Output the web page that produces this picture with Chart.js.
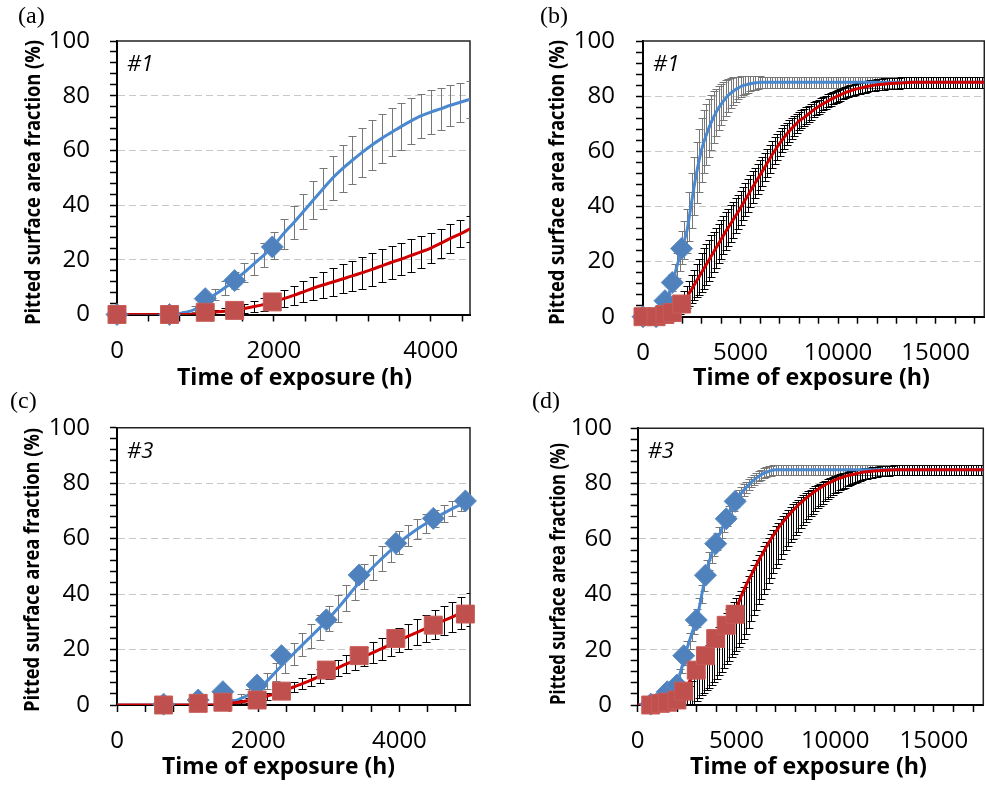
<!DOCTYPE html>
<html>
<head>
<meta charset="utf-8">
<title>Pitted surface area fraction vs time of exposure</title>
<script src="https://cdn.jsdelivr.net/npm/chart.js@4.4.1/dist/chart.umd.min.js"></script>
<style>
    html, body { margin: 0; padding: 0; background: #fff; overflow: hidden; }
    #page { position: relative; width: 985px; height: 787px; overflow: hidden; }
    canvas { position: absolute; }
</style>
</head>
<body>
<div id="page">
    <canvas id="pa" width="490" height="390" style="left:0;top:0"></canvas>
    <canvas id="pb" width="508" height="390" style="left:490px;top:0"></canvas>
    <canvas id="pc" width="490" height="397" style="left:0;top:390px"></canvas>
    <canvas id="pd" width="507" height="397" style="left:490px;top:390px"></canvas>
</div>
<script>
// experimental points (markers)
const expHours1 = [0, 670, 1125, 1500, 1980];
const expBlue1 = [0, 0, 5.8, 12.4, 24.7];
const expRed1 = [0, 0, 0.8, 1.5, 4.6];

const expHours3 = [660, 1150, 1500, 1985, 2330, 2965, 3430, 3950, 4480, 4935];
const expBlue3 = [0.3, 1.8, 4.8, 7.2, 17.8, 30.7, 46.9, 58.3, 67.3, 73.6];
const expRed3 = [0, 0.6, 1, 1.8, 5, 12.6, 17.8, 24, 28.8, 32.8];

// model curves, panel (a)
const hoursA = [0, 125, 250, 375, 500, 625, 750, 875, 1000, 1125, 1250, 1375, 1500, 1625, 1750, 1875,
    2000, 2125, 2250, 2375, 2500, 2625, 2750, 2875, 3000, 3125, 3250, 3375, 3500, 3625, 3750, 3875,
    4000, 4125, 4250, 4375, 4500];
const blueA = [0, 0, 0, 0, 0, 0, 0.2, 0.8, 2, 5, 7.3, 9.8, 12.4, 15.5, 18.6, 21.8,
    25.3, 29.6, 33.5, 37.6, 41.8, 45.9, 49.9, 53.3, 56.4, 59.3, 62, 64.4, 66.6, 68.8, 70.8, 72.6,
    74, 75.2, 76.5, 77.6, 78.7];
const blueErrA = [0, 0, 0, 0, 0, 0, 0.2, 0.5, 1, 1.5, 2, 2.5, 3, 3.5, 4, 4.5,
    5, 5.5, 6, 6.5, 7, 7.5, 8, 8.5, 8.8, 9, 9, 9, 8.8, 8.6, 8.4, 8.2,
    8, 7.7, 7.4, 7.1, 6.8];
const redA = [0, 0, 0, 0, 0, 0, 0, 0, 0.2, 0.6, 0.9, 1.2, 1.6, 2.2, 2.9, 3.7,
    4.7, 5.8, 7, 8.3, 9.6, 10.8, 11.9, 13, 14.1, 15.3, 16.5, 17.8, 19.1, 20.3, 21.6, 22.9,
    24.3, 26, 27.8, 29.5, 31.3];
const redErrA = [0, 0, 0, 0, 0, 0, 0, 0, 0.3, 0.5, 0.8, 1, 1.3, 1.6, 2, 2.3,
    2.6, 3, 3.4, 3.8, 4.2, 4.6, 5, 5.3, 5.6, 5.8, 6, 6, 6, 6, 5.9, 5.8,
    5.6, 5.4, 5.2, 5, 4.8];

// model curves, panel (c)
const hoursC = [0, 125, 250, 375, 500, 625, 750, 875, 1000, 1125, 1250, 1375, 1500, 1625, 1750, 1875,
    2000, 2125, 2250, 2375, 2500, 2625, 2750, 2875, 3000, 3125, 3250, 3375, 3500, 3625, 3750, 3875,
    4000, 4125, 4250, 4375, 4500, 4625, 4750, 4875, 5000];
const blueC = [0, 0, 0, 0, 0, 0, 0, 0, 0, 0, 0, 0, 0.5, 1.2, 2.3, 3.8,
    5.8, 8.6, 12, 15.3, 18.5, 21.7, 24.8, 27.9, 31.2, 34.8, 38.6, 42.5, 46.3, 49.7, 52.8, 55.8,
    58.6, 61.1, 63.4, 65.4, 67.3, 69.1, 70.8, 72.4, 74];
const blueErrC = [0, 0, 0, 0, 0, 0, 0, 0, 0, 0, 0, 0, 0.5, 1, 1.5, 2,
    2.5, 3, 3.3, 3.6, 3.9, 4.1, 4.3, 4.5, 4.6, 4.7, 4.7, 4.7, 4.6, 4.5, 4.4, 4.2,
    4, 3.8, 3.6, 3.4, 3.2, 3, 2.8, 2.6, 2.5];
const redC = [0, 0, 0, 0, 0, 0, 0, 0, 0, 0, 0, 0, 0.4, 0.7, 1.1, 1.6,
    2.3, 3.2, 4.2, 5.3, 6.5, 7.7, 9, 10.5, 12, 13.4, 14.8, 16.1, 17.5, 18.9, 20.3, 21.8,
    23.3, 24.8, 26.2, 27.6, 29, 30.4, 31.8, 33.2, 34.5];
const redErrC = [0, 0, 0, 0, 0, 0, 0, 0, 0, 0, 0, 0, 0.3, 0.5, 0.7, 0.9,
    1.1, 1.3, 1.5, 1.7, 1.9, 2.1, 2.3, 2.5, 2.7, 2.9, 3.1, 3.3, 3.5, 3.7, 3.9, 4.1,
    4.3, 4.5, 4.7, 4.9, 5.1, 5.3, 5.5, 5.7, 5.9];

// model curves over the long time range, panels (b) and (d); one row = 2000 h
const hoursL = [0, 125, 250, 375, 500, 625, 750, 875, 1000, 1125, 1250, 1375, 1500, 1625, 1750, 1875,
    2000, 2125, 2250, 2375, 2500, 2625, 2750, 2875, 3000, 3125, 3250, 3375, 3500, 3625, 3750, 3875,
    4000, 4125, 4250, 4375, 4500, 4625, 4750, 4875, 5000, 5125, 5250, 5375, 5500, 5625, 5750, 5875,
    6000, 6125, 6250, 6375, 6500, 6625, 6750, 6875, 7000, 7125, 7250, 7375, 7500, 7625, 7750, 7875,
    8000, 8125, 8250, 8375, 8500, 8625, 8750, 8875, 9000, 9125, 9250, 9375, 9500, 9625, 9750, 9875,
    10000, 10125, 10250, 10375, 10500, 10625, 10750, 10875, 11000, 11125, 11250, 11375, 11500, 11625, 11750, 11875,
    12000, 12125, 12250, 12375, 12500, 12625, 12750, 12875, 13000, 13125, 13250, 13375, 13500, 13625, 13750, 13875,
    14000, 14125, 14250, 14375, 14500, 14625, 14750, 14875, 15000, 15125, 15250, 15375, 15500, 15625, 15750, 15875,
    16000, 16125, 16250, 16375, 16500, 16625, 16750, 16875, 17000, 17125, 17250, 17375, 17500];

const blueB = [0, 0, 0, 0, 0, 0, 0.2, 0.8, 2, 4, 6.3, 9.3, 12.4, 15.4, 18.5, 21.7,
    25, 27.8, 31, 36.3, 42, 47.4, 52.3, 56.6, 60.5, 63.5, 66, 68.4, 70.5, 72.4, 74.2, 75.7,
    77, 78.2, 79.3, 80.3, 81.1, 81.8, 82.4, 82.9, 83.4, 83.8, 84.1, 84.3, 84.5, 84.7, 84.8, 84.9,
    85, 85, 85, 85, 85, 85, 85, 85, 85, 85, 85, 85, 85, 85, 85, 85,
    85, 85, 85, 85, 85, 85, 85, 85, 85, 85, 85, 85, 85, 85, 85, 85,
    85, 85, 85, 85, 85, 85, 85, 85, 85, 85, 85, 85, 85, 85, 85, 85,
    85, 85, 85, 85, 85, 85, 85, 85, 85, 85, 85, 85, 85, 85, 85, 85,
    85, 85, 85, 85, 85, 85, 85, 85, 85, 85, 85, 85, 85, 85, 85, 85,
    85, 85, 85, 85, 85, 85, 85, 85, 85, 85, 85, 85, 85];
const blueErrB = [0, 0, 0, 0, 0, 0.1, 0.3, 0.6, 1, 1.5, 2, 2.5, 3, 3.7, 4.5, 5.2,
    6, 7, 8, 9, 10, 10.5, 11, 11.3, 11.5, 11.3, 11, 10.5, 10, 9.3, 8.5, 8,
    7.5, 7, 6.5, 6, 5.5, 5, 4.5, 4.1, 3.8, 3.5, 3.2, 3, 2.8, 2.6, 2.4, 2.3,
    2.2, 2.1, 2, 2, 2, 2, 2, 2, 2, 2, 2, 2, 2, 2, 2, 2,
    2, 2, 2, 2, 2, 2, 2, 2, 2, 2, 2, 2, 2, 2, 2, 2,
    2, 2, 2, 2, 2, 2, 2, 2, 2, 2, 2, 2, 2, 2, 2, 2,
    2, 2, 2, 2, 2, 2, 2, 2, 2, 2, 2, 2, 2, 2, 2, 2,
    2, 2, 2, 2, 2, 2, 2, 2, 2, 2, 2, 2, 2, 2, 2, 2,
    2, 2, 2, 2, 2, 2, 2, 2, 2, 2, 2, 2, 2];
const redB = [0, 0, 0, 0, 0, 0, 0, 0.1, 0.3, 0.4, 0.6, 1, 1.5, 2.1, 2.8, 3.6,
    4.6, 5.7, 7, 8.5, 10, 11.5, 13, 14.5, 16, 17.5, 19, 20.5, 22, 23.5, 25, 26.5,
    28, 29.5, 31, 32.4, 33.8, 35.2, 36.6, 38, 39.5, 41, 42.5, 44, 45.5, 47, 48.5, 49.9,
    51.3, 52.8, 54.3, 55.8, 57.3, 58.8, 60.2, 61.5, 62.8, 64, 65.2, 66.3, 67.3, 68.3, 69.2, 70.1,
    71, 71.6, 72.2, 72.9, 73.6, 74.3, 75, 75.6, 76.2, 76.8, 77.3, 77.8, 78.3, 78.8, 79.2, 79.7,
    80.1, 80.5, 80.9, 81.3, 81.6, 81.9, 82.2, 82.5, 82.7, 82.9, 83.1, 83.3, 83.5, 83.7, 83.8, 84,
    84.1, 84.2, 84.3, 84.4, 84.5, 84.55, 84.6, 84.65, 84.7, 84.75, 84.8, 84.85, 84.9, 84.95, 85, 85,
    85, 85, 85, 85, 85, 85, 85, 85, 85, 85, 85, 85, 85, 85, 85, 85,
    85, 85, 85, 85, 85, 85, 85, 85, 85, 85, 85, 85, 85];
const redErrB = [0, 0, 0, 0, 0, 0, 0, 0.1, 0.3, 0.4, 0.6, 0.9, 1.2, 1.6, 2, 2.5,
    3, 3.5, 4, 4.5, 5, 5.5, 6, 6.5, 7, 7.3, 7.5, 7.5, 7.5, 7.4, 7.3, 7.2,
    7, 6.9, 6.8, 6.7, 6.6, 6.5, 6.4, 6.3, 6.2, 6.1, 6, 5.9, 5.8, 5.7, 5.6, 5.5,
    5.4, 5.3, 5.2, 5.1, 5, 4.9, 4.8, 4.7, 4.5, 4.4, 4.2, 4.1, 3.9, 3.8, 3.6, 3.5,
    3.3, 3.2, 3.1, 3, 2.9, 2.8, 2.7, 2.6, 2.5, 2.5, 2.4, 2.4, 2.3, 2.3, 2.2, 2.2,
    2.1, 2.1, 2, 2, 2, 2, 2, 2, 2, 2, 2, 2, 2, 2, 2, 2,
    2, 2, 2, 2, 2, 2, 2, 2, 2, 2, 2, 2, 2, 2, 2, 2,
    2, 2, 2, 2, 2, 2, 2, 2, 2, 2, 2, 2, 2, 2, 2, 2,
    2, 2, 2, 2, 2, 2, 2, 2, 2, 2, 2, 2, 2];

const blueD = [0, 0, 0, 0, 0, 0.2, 0.5, 0.8, 1.2, 1.8, 2.4, 3.3, 4.2, 5, 5.8, 6.8,
    8, 10.8, 14, 17.2, 20.5, 23.3, 26, 28.7, 31.5, 35.5, 40, 44.6, 49, 52, 54.5, 57,
    59.2, 61.4, 63.5, 65.5, 67.5, 69.3, 71, 72.6, 74, 75.4, 76.6, 77.7, 78.7, 79.6, 80.5, 81.3,
    82, 82.6, 83.2, 83.7, 84.1, 84.4, 84.7, 84.9, 85, 85, 85, 85, 85, 85, 85, 85,
    85, 85, 85, 85, 85, 85, 85, 85, 85, 85, 85, 85, 85, 85, 85, 85,
    85, 85, 85, 85, 85, 85, 85, 85, 85, 85, 85, 85, 85, 85, 85, 85,
    85, 85, 85, 85, 85, 85, 85, 85, 85, 85, 85, 85, 85, 85, 85, 85,
    85, 85, 85, 85, 85, 85, 85, 85, 85, 85, 85, 85, 85, 85, 85, 85,
    85, 85, 85, 85, 85, 85, 85, 85, 85, 85, 85, 85, 85];
const blueErrD = [0, 0, 0, 0, 0, 0.1, 0.3, 0.4, 0.6, 0.8, 1, 1.2, 1.3, 1.5, 1.6, 1.8,
    2, 2.2, 2.4, 2.6, 2.8, 2.9, 3, 3.1, 3.2, 3.3, 3.3, 3.3, 3.3, 3.3, 3.2, 3.2,
    3.1, 3.1, 3, 2.9, 2.8, 2.7, 2.6, 2.5, 2.4, 2.3, 2.2, 2.1, 2, 1.9, 1.8, 1.8,
    1.8, 1.8, 1.8, 1.8, 1.8, 1.8, 1.8, 1.8, 1.8, 1.8, 1.8, 1.8, 1.8, 1.8, 1.8, 1.8,
    1.8, 1.8, 1.8, 1.8, 1.8, 1.8, 1.8, 1.8, 1.8, 1.8, 1.8, 1.8, 1.8, 1.8, 1.8, 1.8,
    1.8, 1.8, 1.8, 1.8, 1.8, 1.8, 1.8, 1.8, 1.8, 1.8, 1.8, 1.8, 1.8, 1.8, 1.8, 1.8,
    1.8, 1.8, 1.8, 1.8, 1.8, 1.8, 1.8, 1.8, 1.8, 1.8, 1.8, 1.8, 1.8, 1.8, 1.8, 1.8,
    1.8, 1.8, 1.8, 1.8, 1.8, 1.8, 1.8, 1.8, 1.8, 1.8, 1.8, 1.8, 1.8, 1.8, 1.8, 1.8,
    1.8, 1.8, 1.8, 1.8, 1.8, 1.8, 1.8, 1.8, 1.8, 1.8, 1.8, 1.8, 1.8];
const redD = [0, 0, 0, 0, 0, 0, 0, 0.1, 0.3, 0.4, 0.6, 0.8, 1, 1.2, 1.4, 1.6,
    2, 2.9, 4, 5.5, 7, 8.5, 10, 11.3, 12.6, 13.9, 15.2, 16.6, 18, 19.5, 21, 22.5,
    24, 25.3, 26.6, 27.8, 29, 30.4, 31.8, 33.3, 35, 37.2, 39.5, 41.5, 43.5, 45.3, 47, 48.8,
    50.5, 52.2, 53.8, 55.4, 57, 58.5, 60, 61.4, 62.7, 64, 65.2, 66.3, 67.4, 68.4, 69.4, 70.4,
    71.3, 72.2, 73, 73.8, 74.6, 75.3, 76, 76.7, 77.3, 77.9, 78.5, 79.1, 79.6, 80.1, 80.5, 80.9,
    81.3, 81.7, 82, 82.3, 82.6, 82.9, 83.1, 83.3, 83.5, 83.7, 83.9, 84.1, 84.2, 84.3, 84.4, 84.5,
    84.6, 84.65, 84.7, 84.75, 84.8, 84.85, 84.9, 84.95, 85, 85, 85, 85, 85, 85, 85, 85,
    85, 85, 85, 85, 85, 85, 85, 85, 85, 85, 85, 85, 85, 85, 85, 85,
    85, 85, 85, 85, 85, 85, 85, 85, 85, 85, 85, 85, 85];
// in (d) the black bars sit slightly to the right of the red curve
const redBarD = [0, 0, 0, 0, 0, 0, 0, 0, 0, 0, 0, 0.1, 0.3, 0.4, 0.6, 0.8,
    1, 1.2, 1.4, 1.6, 2, 2.9, 4, 5.5, 7, 8.5, 10, 11.3, 12.6, 13.9, 15.2, 16.6,
    18, 19.5, 21, 22.5, 24, 25.3, 26.6, 27.8, 29, 30.4, 31.8, 33.3, 35, 37.2, 39.5, 41.5,
    43.5, 45.3, 47, 48.8, 50.5, 52.2, 53.8, 55.4, 57, 58.5, 60, 61.4, 62.7, 64, 65.2, 66.3,
    67.4, 68.4, 69.4, 70.4, 71.3, 72.2, 73, 73.8, 74.6, 75.3, 76, 76.7, 77.3, 77.9, 78.5, 79.1,
    79.6, 80.1, 80.5, 80.9, 81.3, 81.7, 82, 82.3, 82.6, 82.9, 83.1, 83.3, 83.5, 83.7, 83.9, 84.1,
    84.2, 84.3, 84.4, 84.5, 84.6, 84.65, 84.7, 84.75, 84.8, 84.85, 84.9, 84.95, 85, 85, 85, 85,
    85, 85, 85, 85, 85, 85, 85, 85, 85, 85, 85, 85, 85, 85, 85, 85,
    85, 85, 85, 85, 85, 85, 85, 85, 85, 85, 85, 85, 85];
const redErrD = [0, 0, 0, 0, 0, 0, 0, 0.1, 0.3, 0.4, 0.5, 0.6, 0.8, 0.9, 1.1, 1.3,
    1.5, 2, 2.5, 3, 3.5, 4, 4.5, 5, 5.5, 6, 6.5, 6.9, 7.3, 7.7, 8, 8.3,
    8.5, 8.8, 9, 9.1, 9.2, 9.3, 9.4, 9.5, 9.5, 9.5, 9.5, 9.5, 9.4, 9.3, 9.2, 9.1,
    9, 8.9, 8.7, 8.6, 8.4, 8.2, 8, 7.8, 7.6, 7.4, 7.2, 7, 6.8, 6.6, 6.4, 6.2,
    6, 5.8, 5.6, 5.4, 5.2, 5, 4.8, 4.6, 4.4, 4.2, 4, 3.9, 3.7, 3.6, 3.4, 3.3,
    3.1, 3, 2.9, 2.8, 2.7, 2.6, 2.5, 2.4, 2.3, 2.2, 2.1, 2.1, 2, 2, 1.9, 1.9,
    1.8, 1.8, 1.8, 1.8, 1.8, 1.8, 1.8, 1.8, 1.8, 1.8, 1.8, 1.8, 1.8, 1.8, 1.8, 1.8,
    1.8, 1.8, 1.8, 1.8, 1.8, 1.8, 1.8, 1.8, 1.8, 1.8, 1.8, 1.8, 1.8, 1.8, 1.8, 1.8,
    1.8, 1.8, 1.8, 1.8, 1.8, 1.8, 1.8, 1.8, 1.8, 1.8, 1.8, 1.8, 1.8];

const yTitle = 'Pitted surface area fraction (%)';
const xTitle = 'Time of exposure (h)';

// layout of each panel inside its canvas
const panels = [
    { canvas: 'pa', hours: hoursA, blue: blueA, blueErr: blueErrA, red: redA, redErr: redErrA, redBar: null,
      expX: expHours1, expBlue: expBlue1, expRed: expRed1,
      xmax: 4500, xstep: 400, xlabelEvery: 2000, yw: 117, xh: 75.5, padTop: 41, padRight: 20, yPad: 20,
      letter: '(a)', letterX: 18, letterY: 23, tag: '#1', yT: [34, 182.5, 285], xT: [294.5, 378, 235] },
    { canvas: 'pb', hours: hoursL, blue: blueB, blueErr: blueErrB, red: redB, redErr: redErrB, redBar: null,
      expX: expHours1, expBlue: expBlue1, expRed: expRed1,
      xmax: 17500, xstep: 1000, xlabelEvery: 5000, yw: 153, xh: 73.3, padTop: 41, padRight: 0, yPad: 21,
      letter: '(b)', letterX: 50, letterY: 23, tag: '#1', yT: [67.5, 182.5, 285], xT: [321.5, 378, 237] },
    { canvas: 'pc', hours: hoursC, blue: blueC, blueErr: blueErrC, red: redC, redErr: redErrC, redBar: null,
      expX: expHours3, expBlue: expBlue3, expRed: expRed3,
      xmax: 5000, xstep: 400, xlabelEvery: 2000, yw: 117, xh: 82, padTop: 37.7, padRight: 20, yPad: 20,
      letter: '(c)', letterX: 10, letterY: 18, tag: '#3', yT: [33, 180, 284], xT: [278.5, 377, 233] },
    { canvas: 'pd', hours: hoursL, blue: blueD, blueErr: blueErrD, red: redD, redErr: redErrD, redBar: redBarD,
      expX: expHours3, expBlue: expBlue3, expRed: expRed3,
      xmax: 17500, xstep: 1000, xlabelEvery: 5000, yw: 147.7, xh: 82, padTop: 38.3, padRight: 0, yPad: 18.7,
      letter: '(d)', letterX: 42, letterY: 18, tag: '#3', yT: [69, 184, 262], xT: [318.5, 377, 237] }
];

const pts = (xs, ys) => xs.map((x, i) => ({ x: x, y: ys[i] }));

// vertical error bars with caps, behind the curves
const errorBars = {
    id: 'errorBars',
    beforeDatasetsDraw(chart) {
        const { ctx, chartArea: a, scales: { x, y } } = chart;
        ctx.save();
        ctx.beginPath();
        ctx.rect(a.left, a.top, a.right - a.left, a.bottom - a.top);
        ctx.clip();
        const sets = chart.data.datasets.filter(ds => ds.errors).sort((p, q) => q.order - p.order);
        sets.forEach(ds => {
            ctx.strokeStyle = ds.errorColor;
            ctx.lineWidth = 1;
            ctx.beginPath();
            ds.data.forEach((p, i) => {
                const e = ds.errors[i];
                if (!e) return;
                const c = ds.errorCenters ? ds.errorCenters[i] : p.y;
                const px = Math.round(x.getPixelForValue(p.x)) + 0.5;
                const y1 = Math.round(y.getPixelForValue(c + e)) + 0.5;
                const y2 = Math.round(y.getPixelForValue(c - e)) + 0.5;
                ctx.moveTo(px, y1); ctx.lineTo(px, y2);
                ctx.moveTo(px - 4, y1); ctx.lineTo(px + 4, y1);
                ctx.moveTo(px - 4, y2); ctx.lineTo(px + 4, y2);
            });
            ctx.stroke();
        });
        ctx.restore();
    }
};

// thin top and right border of the plot area
const frame = {
    id: 'frame',
    beforeDatasetsDraw(chart) {
        const { ctx, chartArea: a } = chart;
        ctx.save();
        ctx.strokeStyle = '#222';
        ctx.lineWidth = 1.5;
        ctx.beginPath();
        ctx.moveTo(a.left, a.top);
        ctx.lineTo(a.right, a.top);
        ctx.lineTo(a.right, a.bottom);
        ctx.stroke();
        ctx.restore();
    }
};

function fitText(ctx, text, font, x, y, len, rot) {
    ctx.save();
    ctx.font = font;
    ctx.textAlign = 'center';
    ctx.textBaseline = 'middle';
    ctx.translate(x, y);
    ctx.rotate(rot);
    ctx.scale(len / ctx.measureText(text).width, 1);
    ctx.fillText(text, 0, 0);
    ctx.restore();
}

// panel letter, sample tag and axis titles
const panelText = {
    id: 'panelText',
    afterDraw(chart, args, o) {
        const { ctx, chartArea: a } = chart;
        ctx.save();
        ctx.fillStyle = '#000';
        ctx.textAlign = 'left';
        ctx.textBaseline = 'alphabetic';
        ctx.font = '24px "Liberation Serif", "DejaVu Serif", serif';
        ctx.fillText(o.letter, o.letterX, o.letterY);
        ctx.font = 'italic 22px "Open Sans", sans-serif';
        ctx.fillText(o.tag, a.left + 10, a.top + 30);
        fitText(ctx, xTitle, 'bold 23px "Open Sans", sans-serif', o.xT[0], o.xT[1], o.xT[2], 0);
        fitText(ctx, yTitle, 'bold 22px "Open Sans", sans-serif', o.yT[0], o.yT[1], o.yT[2], -Math.PI / 2);
        ctx.restore();
    }
};

Chart.defaults.font.family = '"Open Sans", sans-serif';
Chart.defaults.color = '#000';

panels.forEach(function (p) {
    const tickFont = { family: '"Open Sans", sans-serif', size: 24 };
    new Chart(document.getElementById(p.canvas), {
        type: 'scatter',
        data: {
            datasets: [
                { label: 'Measured (red)', data: pts(p.expX, p.expRed), order: 0, clip: false,
                  pointStyle: 'rect', pointRadius: 12.7, pointHoverRadius: 12.7,
                  pointBackgroundColor: '#c0504d', pointBorderColor: '#c85c58', pointBorderWidth: 1 },
                { label: 'Measured (blue)', data: pts(p.expX, p.expBlue), order: 1, clip: false,
                  pointStyle: 'rectRot', pointRadius: 11, pointHoverRadius: 11,
                  pointBackgroundColor: '#4f81bd', pointBorderColor: '#5a8cc8', pointBorderWidth: 1 },
                { label: 'Model (red)', data: pts(p.hours, p.red), order: 2,
                  errors: p.redErr, errorCenters: p.redBar, errorColor: '#000',
                  showLine: true, pointRadius: 0, pointHoverRadius: 0,
                  borderColor: '#d00000', borderWidth: 3, cubicInterpolationMode: 'monotone' },
                { label: 'Model (blue)', data: pts(p.hours, p.blue), order: 3,
                  errors: p.blueErr, errorColor: '#777',
                  showLine: true, pointRadius: 0, pointHoverRadius: 0,
                  borderColor: '#4a88cf', borderWidth: 3, cubicInterpolationMode: 'monotone' }
            ]
        },
        options: {
            responsive: false,
            animation: false,
            events: [],
            layout: { padding: { top: p.padTop, right: p.padRight, left: 0, bottom: 0 } },
            plugins: {
                legend: { display: false },
                tooltip: { enabled: false },
                panelText: p
            },
            scales: {
                x: {
                    type: 'linear', min: 0, max: p.xmax,
                    afterFit: s => { s.height = p.xh; },
                    // minor ticks every xstep, labels every xlabelEvery
                    afterBuildTicks: s => {
                        const t = [];
                        for (let v = 0; v <= p.xmax; v += p.xstep) t.push({ value: v });
                        s.ticks = t;
                    },
                    ticks: {
                        autoSkip: false, minRotation: 0, maxRotation: 0, padding: 15,
                        font: tickFont, color: '#000',
                        callback: v => (v % p.xlabelEvery === 0 ? String(v) : '')
                    },
                    grid: { drawOnChartArea: false, tickLength: 7, tickColor: '#000', tickWidth: 1.5 },
                    border: { color: '#000', width: 2 }
                },
                y: {
                    type: 'linear', min: 0, max: 100,
                    afterFit: s => { s.width = p.yw; },
                    ticks: {
                        stepSize: 4, autoSkip: false, padding: p.yPad,
                        font: tickFont, color: '#000',
                        callback: v => (v % 20 === 0 ? String(v) : '')
                    },
                    grid: {
                        lineWidth: 1,
                        color: c => (c.tick && c.tick.value % 20 === 0 && c.tick.value > 0 && c.tick.value < 100)
                            ? '#c8c8c8' : 'rgba(0,0,0,0)',
                        tickLength: 7, tickColor: '#000', tickWidth: 1.5
                    },
                    border: { color: '#000', width: 2, dash: [7, 4] }
                }
            }
        },
        plugins: [frame, errorBars, panelText]
    });
});
</script>
</body>
</html>
